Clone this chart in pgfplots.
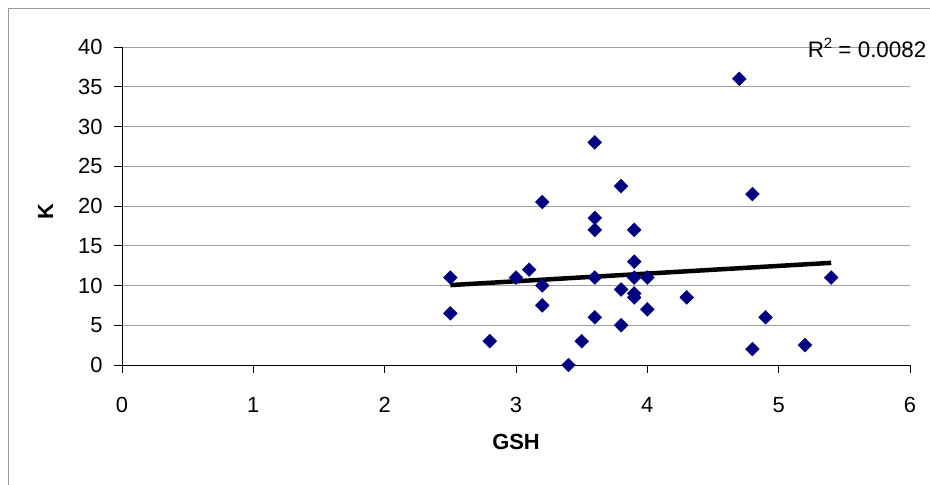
\documentclass[border=0pt]{standalone}
\usepackage{pgfplots}
\pgfplotsset{compat=1.18}
\usepackage{fontspec}
\setmainfont{Liberation Sans}
\definecolor{navymark}{HTML}{000080}
\pgfplotstableread{
x y
2.5 11
2.5 6.5
2.8 3
3.0 11
3.1 12
3.2 20.5
3.2 10
3.2 7.5
3.4 0
3.5 3
3.6 28
3.6 18.5
3.6 17
3.6 11
3.6 6
3.8 22.5
3.8 9.5
3.8 5
3.9 17
3.9 13
3.9 11
3.9 9
3.9 8.5
4.0 11
4.0 7
4.3 8.5
4.7 36
4.8 21.5
4.8 2
4.9 6
5.2 2.5
5.4 11
}\datatable
\pgfplotstableread{
x y
2.5 10.05
5.4 12.85
}\trendtable
\begin{document}
\begin{tikzpicture}
\useasboundingbox (0,0) rectangle (930bp,485bp);
\clip (0,0) rectangle (930bp,485bp);
\fill[white] (0,0) rectangle (930bp,485bp);
\draw[gray!80, line width=0.8bp] (8bp,-5bp) -- (8bp,477bp) -- (940bp,477bp);
\begin{axis}[
  at={(122bp,120bp)}, anchor=south west,
  scale only axis, width=788bp, height=318bp,
  xmin=0, xmax=6, ymin=0, ymax=40,
  xtick={0,1,...,6}, ytick={0,5,...,40},
  axis x line*=bottom, axis y line*=left,
  axis line style={black, line width=0.9bp, -},
  tick align=outside, major tick length=8bp,
  tick style={black, line width=0.8bp},
  ymajorgrids, grid style={gray!75, line width=0.9bp},
  /pgf/number format/assume math mode=true,
  ticklabel style={font=\fontsize{22}{26}\selectfont},
  xticklabel style={anchor=base, yshift=-39bp},
  yticklabel style={anchor=east, xshift=-8bp},
  xlabel={\textbf{GSH}}, ylabel={\textbf{K}},
  label style={font=\fontsize{22}{26}\selectfont},
  xlabel style={at={(axis description cs:0.5,-0.242)}, anchor=center},
  ylabel style={at={(axis description cs:-0.097,0.483)}, anchor=center, rotate=0},
  clip=false,
]
\addplot[only marks, mark=square*, mark size=4.9bp, mark options={rotate=45, fill=navymark, draw=navymark}] table[x=x, y=y] {\datatable};
\addplot[black, line width=4.5bp, no marks] table[x=x, y=y] {\trendtable};
\node[anchor=base west, font=\fontsize{22.5}{26}\selectfont, inner sep=0pt] at (axis cs:5.22,38.65) {R\raisebox{0.42em}{\fontsize{15}{17}\selectfont 2} = 0.0082};
\end{axis}
\end{tikzpicture}
\end{document}
